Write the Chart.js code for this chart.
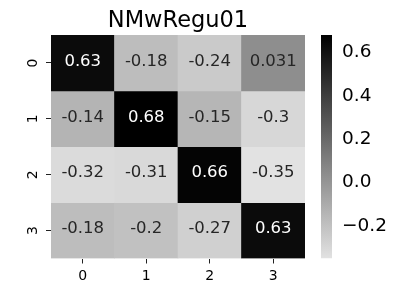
<!DOCTYPE html>
<html>
<head>
<meta charset="utf-8">
<script src="https://cdn.jsdelivr.net/npm/chart.js@4/dist/chart.umd.min.js"></script>
<style>
  html, body { margin: 0; padding: 0; background: #fff; }
  #wrap { position: relative; width: 409px; height: 291px; }
  canvas { position: absolute; left: 0; top: 0; }
</style>
</head>
<body>
<div id="wrap">
  <canvas id="heat" width="409" height="291"></canvas>
  <canvas id="cbar" width="409" height="291"></canvas>
</div>
<script>
// ---- data ----
const titleText = 'NMwRegu01';
const colLabels = ['0', '1', '2', '3'];
const rowLabels = ['0', '1', '2', '3'];
const row0 = [0.63, -0.18, -0.24, 0.031];
const row1 = [-0.14, 0.68, -0.15, -0.3];
const row2 = [-0.32, -0.31, 0.66, -0.35];
const row3 = [-0.18, -0.2, -0.27, 0.63];
const rows = [row0, row1, row2, row3];
const cbarTicks = [-0.2, 0.0, 0.2, 0.4, 0.6];
const cbarTickLabels = ['\u22120.2', '0.0', '0.2', '0.4', '0.6'];

const allVals = rows.flat();
const vmin = Math.min(...allVals);
const vmax = Math.max(...allVals);

// colormap: light grey at vmin -> black at vmax
const LIGHT = 226;
function grey(v) {
  let t = (v - vmin) / (vmax - vmin);
  t = Math.max(0, Math.min(1, t));
  return Math.round(LIGHT * (1 - t));
}
function colorOf(v) { const g = grey(v); return `rgb(${g},${g},${g})`; }
function fmt(v) {
  let s = v.toPrecision(2);
  if (s.indexOf('.') >= 0) s = s.replace(/0+$/, '').replace(/\.$/, '');
  return s;
}

const FONT = 'DejaVu Sans';

const annotPlugin = {
  id: 'annot',
  afterDatasetsDraw(chart) {
    const ctx = chart.ctx;
    ctx.save();
    ctx.font = `16.5px "${FONT}"`;
    ctx.textAlign = 'center';
    ctx.textBaseline = 'middle';
    chart.data.datasets.forEach((ds, r) => {
      const meta = chart.getDatasetMeta(r);
      meta.data.forEach((el, c) => {
        const v = rows[r][c];
        const p = el.getCenterPoint();
        const lum = grey(v) / 255;
        ctx.fillStyle = lum < 0.408 ? '#ffffff' : 'rgb(38,38,38)';
        ctx.fillText(fmt(v), p.x, p.y - 1.5);
      });
    });
    ctx.restore();
  }
};

new Chart(document.getElementById('heat'), {
  type: 'bar',
  data: {
    labels: colLabels,
    datasets: rows.map((vals, r) => ({
      data: vals.map(() => [r, r + 1]),
      backgroundColor: vals.map(colorOf),
      borderWidth: 0,
      grouped: false,
      barPercentage: 1,
      categoryPercentage: 1
    }))
  },
  options: {
    responsive: false,
    animation: false,
    layout: { padding: { left: 0, right: 104, top: 0, bottom: 0 } },
    plugins: {
      legend: { display: false },
      tooltip: { enabled: false },
      title: {
        display: true,
        text: titleText,
        fullSize: false,
        color: '#000',
        font: { family: FONT, size: 22.5, weight: 'normal', lineHeight: 1.2 },
        padding: { top: 7.5, bottom: 0.5 }
      }
    },
    scales: {
      x: {
        type: 'category',
        offset: true,
        grid: { display: true, drawOnChartArea: false, drawTicks: true, tickLength: 5, offset: false, color: '#000', tickColor: '#222', tickWidth: 1 },
        border: { display: false },
        ticks: { color: '#000', font: { family: FONT, size: 14 }, padding: 4, maxRotation: 0 },
        afterFit(s) { s.height = 32.5; }
      },
      y: {
        type: 'linear',
        reverse: true,
        min: 0,
        max: rows.length,
        grid: { display: true, drawOnChartArea: false, drawTicks: true, tickLength: 5, color: '#000', tickColor: '#222', tickWidth: 1 },
        border: { display: false },
        afterBuildTicks(s) { s.ticks = rowLabels.map((_, i) => ({ value: i + 0.5 })); },
        ticks: {
          color: '#000',
          font: { family: FONT, size: 14 },
          minRotation: 90,
          maxRotation: 90,
          crossAlign: 'center',
          padding: 8,
          callback: (v, i) => rowLabels[i]
        },
        afterFit(s) { s.width = 51; }
      }
    }
  },
  plugins: [annotPlugin]
});

// ---- colorbar ----
new Chart(document.getElementById('cbar'), {
  type: 'bar',
  data: {
    labels: [''],
    datasets: [{
      data: [[vmin, vmax]],
      backgroundColor(ctx) {
        const ca = ctx.chart.chartArea;
        if (!ca) return 'rgb(128,128,128)';
        const g = ctx.chart.ctx.createLinearGradient(0, ca.bottom, 0, ca.top);
        const n = 10;
        for (let i = 0; i <= n; i++) {
          g.addColorStop(i / n, colorOf(vmin + (vmax - vmin) * i / n));
        }
        return g;
      },
      borderWidth: 0,
      barPercentage: 1,
      categoryPercentage: 1,
      inflateAmount: 0
    }]
  },
  options: {
    responsive: false,
    animation: false,
    layout: { padding: { left: 321, right: 0, top: 35, bottom: 32.5 } },
    plugins: { legend: { display: false }, tooltip: { enabled: false }, title: { display: false } },
    scales: {
      x: { display: false, offset: true },
      y: {
        type: 'linear',
        position: 'right',
        min: vmin,
        max: vmax,
        grid: { display: false, drawTicks: false },
        border: { display: false },
        afterBuildTicks(s) { s.ticks = cbarTicks.map(v => ({ value: v })); },
        ticks: {
          color: '#000',
          font: { family: FONT, size: 18.5 },
          padding: 10,
          callback: (v, i) => cbarTickLabels[i]
        },
        afterFit(s) { s.width = 77; }
      }
    }
  }
});
</script>
</body>
</html>
